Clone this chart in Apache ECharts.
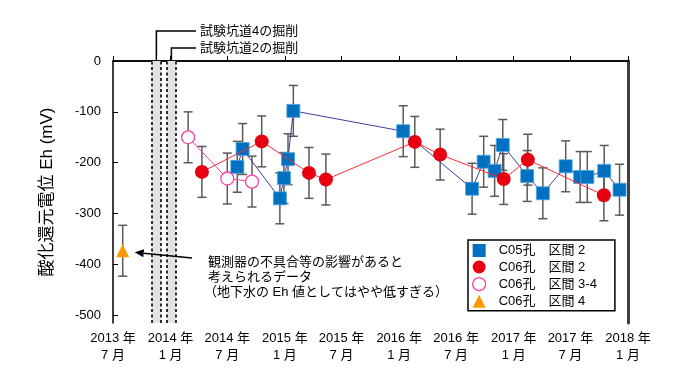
<!DOCTYPE html>
<html><head><meta charset="utf-8">
<script src="https://cdn.jsdelivr.net/npm/echarts@6/dist/echarts.min.js"></script>
<style>html,body{margin:0;padding:0;background:#fff}#c{width:676px;height:382px}</style>
</head><body><div id="c"></div>
<script>
// ---- data ----
const xTickDates = ['2013-07-01','2014-01-01','2014-07-01','2015-01-01','2015-07-01','2016-01-01','2016-07-01','2017-01-01','2017-07-01','2018-01-01'];
const yTicks = [0,-100,-200,-300,-400,-500];

const c05Name = 'C05孔　区間 2';
const c05Dates = ['2014-08-02','2014-08-19','2014-12-16','2014-12-29','2015-01-11','2015-01-28','2016-01-14','2016-08-21','2016-09-27','2016-11-01','2016-11-27','2017-02-13','2017-04-04','2017-06-16','2017-08-01','2017-08-24','2017-10-17','2017-12-05'];
const c05Eh    = [-208,-173,-270,-230,-193,-98,-138,-251,-198,-216,-165,-226,-260,-207,-228,-228,-216,-253];
const c05Err   = [50,50,50,50,50,50,50,50,50,50,50,50,50,50,50,50,50,50];

const c06Name = 'C06孔　区間 2';
const c06Dates = ['2014-04-11','2014-10-19','2015-03-19','2015-05-12','2016-02-20','2016-05-11','2016-11-30','2017-02-15','2017-10-16'];
const c06Eh    = [-218,-158,-220,-233,-159,-184,-232,-194,-264];
const c06Err   = [50,50,50,50,50,50,50,50,50];

const c06bName = 'C06孔　区間 3-4';
const c06bDates = ['2014-02-26','2014-07-01','2014-09-18'];
const c06bEh    = [-150,-231,-237];
const c06bErr   = [50,50,50];

const c06cName = 'C06孔　区間 4';
const c06cDates = ['2013-08-01'];
const c06cEh    = [-373];
const c06cErr   = [50];

const bandRanges = [['2013-11-02','2013-12-01'],['2013-12-20','2014-01-18']];
const bandLabels = ['試験坑道4の掘削','試験坑道2の掘削'];
const noteLines = ['観測器の不具合等の影響があると','考えられるデータ','（地下水の Eh 値としてはやや低すぎる）'];

// ---- helpers ----
function ts(s){const p=s.split('-').map(Number);return Date.UTC(p[0],p[1]-1,p[2]);}
function pts(d,v){return d.map((x,i)=>[ts(x),v[i]]);}
function errPts(d,v,e){return d.map((x,i)=>[ts(x),v[i],e[i]]);}

const FONT = '"Liberation Sans","Noto Sans CJK JP",sans-serif';
const xMin = ts(xTickDates[0]), xMax = ts(xTickDates[xTickDates.length-1]);
const xTickVals = xTickDates.map(ts);

function errSeries(d,v,e){
  return {
    type:'custom', z:3, silent:true,
    data: errPts(d,v,e),
    encode:{x:0,y:1},
    renderItem:function(params,api){
      const x=api.value(0), y=api.value(1), er=api.value(2);
      const t=api.coord([x,y+er]), b=api.coord([x,y-er]);
      const w=4.5, st={stroke:'#5a5a5a',lineWidth:1.5};
      return {type:'group',children:[
        {type:'line',shape:{x1:t[0],y1:t[1],x2:b[0],y2:b[1]},style:st},
        {type:'line',shape:{x1:t[0]-w,y1:t[1],x2:t[0]+w,y2:t[1]},style:st},
        {type:'line',shape:{x1:b[0]-w,y1:b[1],x2:b[0]+w,y2:b[1]},style:st}
      ]};
    }
  };
}

const chart = echarts.init(document.getElementById('c'),null,{renderer:'canvas'});

const option = {
  animation:false,
  textStyle:{fontFamily:FONT},
  grid:{left:113,right:48,top:61,bottom:59},
  xAxis:[{
    type:'value', min:xMin, max:xMax,
    splitLine:{show:false},
    axisLine:{lineStyle:{color:'#000',width:1.5}},
    axisTick:{inside:true,length:5,customValues:xTickVals,lineStyle:{color:'#000',width:1}},
    axisLabel:{customValues:xTickVals,color:'#000',fontSize:13,fontFamily:FONT,lineHeight:17,margin:7,
      formatter:function(v){const d=new Date(v);return d.getUTCFullYear()+' 年\n'+(d.getUTCMonth()+1)+' 月';}}
  },{
    type:'value', min:xMin, max:xMax, position:'top',
    splitLine:{show:false}, axisTick:{show:false}, axisLabel:{show:false},
    axisLine:{show:true,lineStyle:{color:'#000',width:1.5}}
  }],
  yAxis:[{
    type:'value', min:-515, max:0,
    name:'酸化還元電位 Eh (mV)', nameLocation:'middle', nameGap:57, nameRotate:90,
    nameTextStyle:{fontSize:17,color:'#000',fontFamily:FONT},
    splitLine:{show:false},
    axisLine:{show:true,lineStyle:{color:'#000',width:1.5}},
    axisTick:{show:true,inside:true,length:5,customValues:yTicks,lineStyle:{color:'#000'}},
    axisLabel:{customValues:yTicks,color:'#000',fontSize:13,fontFamily:FONT,margin:12}
  },{
    type:'value', min:-515, max:0, position:'right',
    splitLine:{show:false}, axisTick:{show:false}, axisLabel:{show:false},
    axisLine:{show:true,lineStyle:{color:'#404040',width:3}}
  }],
  legend:{
    left:468, top:240, orient:'vertical',
    padding:[4,18,3,4], itemGap:3.5, itemWidth:13, itemHeight:13,
    borderColor:'#000', borderWidth:1.5, backgroundColor:'#fff',
    textStyle:{fontSize:13,color:'#000',fontFamily:FONT,padding:[0,0,0,8],lineHeight:13},
    data:[
      {name:c05Name,icon:'rect',itemStyle:{color:'#0070C0',borderWidth:0}},
      {name:c06Name,icon:'circle',itemStyle:{color:'#E60012',borderWidth:0}},
      {name:c06bName,icon:'circle',itemStyle:{color:'#fff',borderColor:'#FF3FA4',borderWidth:1.3}},
      {name:c06cName,icon:'triangle',itemStyle:{color:'#FF9900',borderWidth:0}}
    ]
  },
  series:[
    {
      type:'line', name:'bands', silent:true, data:[], z:1,
      markArea:{silent:true,itemStyle:{color:'#e2e2e2',borderWidth:0},
        data:bandRanges.map(r=>[{xAxis:ts(r[0])},{xAxis:ts(r[1])}])},
      markLine:{silent:true,symbol:'none',label:{show:false},
        lineStyle:{color:'#000',type:[3,2.5],width:1.6},
        data:[].concat(...bandRanges.map(r=>[{xAxis:ts(r[0])},{xAxis:ts(r[1])}]))}
    },
    errSeries(c05Dates,c05Eh,c05Err),
    errSeries(c06Dates,c06Eh,c06Err),
    errSeries(c06bDates,c06bEh,c06bErr),
    errSeries(c06cDates,c06cEh,c06cErr),
    {type:'line',name:c05Name,z:5,data:pts(c05Dates,c05Eh),symbol:'rect',symbolSize:13,
      lineStyle:{color:'#3B3FA0',width:1},itemStyle:{color:'#0070C0',borderColor:'#4FA3E0',borderWidth:0.8}},
    {type:'line',name:c06Name,z:6,data:pts(c06Dates,c06Eh),symbol:'circle',symbolSize:14,
      lineStyle:{color:'#FF2A3A',width:1},itemStyle:{color:'#E60012'}},
    {type:'line',name:c06bName,z:5,data:pts(c06bDates,c06bEh),symbol:'circle',symbolSize:13,
      lineStyle:{color:'#F0409A',width:1},itemStyle:{color:'#fff',borderColor:'#FF3FA4',borderWidth:1.3}},
    {type:'line',name:c06cName,z:5,data:pts(c06cDates,c06cEh),symbol:'triangle',symbolSize:13,
      lineStyle:{color:'#FF9900',width:1},itemStyle:{color:'#FF9900'}}
  ]
};
chart.setOption(option);

// ---- annotations (positions derived from the axes) ----
function px(d,v){return chart.convertToPixel({xAxisIndex:0,yAxisIndex:0},[d,v]);}
const topY = px(xMin,0)[1];
const labelX = 200, labelYs = [31,48];
const g = [];
bandRanges.forEach((r,i)=>{
  const cx = (px(ts(r[0]),0)[0]+px(ts(r[1]),0)[0])/2;
  g.push({type:'polyline',silent:true,z:10,shape:{points:[[cx,topY],[cx,labelYs[i]],[labelX-4,labelYs[i]]]},style:{stroke:'#000',lineWidth:1.5,fill:null}});
  g.push({type:'text',silent:true,z:10,x:labelX,y:labelYs[i],style:{text:bandLabels[i],fontSize:13,fontFamily:FONT,fill:'#000',verticalAlign:'middle',align:'left'}});
});
const tri = px(ts(c06cDates[0]),c06cEh[0]);
const tip = [tri[0]+12, tri[1]+1.5], tail=[192,258];
const ang = Math.atan2(tail[1]-tip[1],tail[0]-tip[0]);
const hl=9, hw=4;
const bx = tip[0]+hl*Math.cos(ang), by = tip[1]+hl*Math.sin(ang);
g.push({type:'line',silent:true,z:10,shape:{x1:bx,y1:by,x2:tail[0],y2:tail[1]},style:{stroke:'#000',lineWidth:1.5}});
g.push({type:'polygon',silent:true,z:10,shape:{points:[tip,[bx+hw*Math.sin(ang),by-hw*Math.cos(ang)],[bx-hw*Math.sin(ang),by+hw*Math.cos(ang)]]},style:{fill:'#000'}});
noteLines.forEach((t,i)=>{
  g.push({type:'text',silent:true,z:10,x:i===2?204:208,y:262+15.3*i,style:{text:t,fontSize:13,fontFamily:FONT,fill:'#000',verticalAlign:'middle',align:'left'}});
});
chart.setOption({graphic:g});
</script></body></html>
